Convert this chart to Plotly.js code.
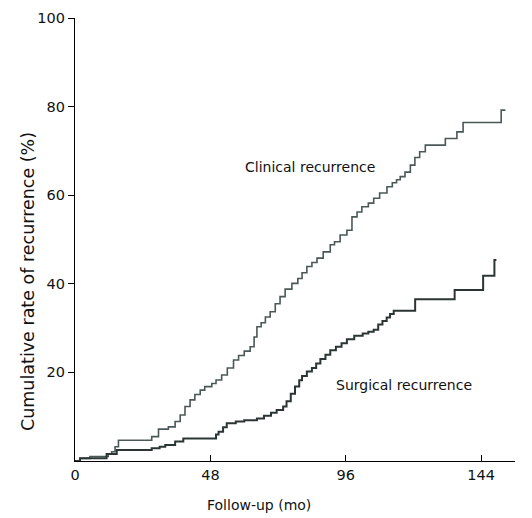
<!DOCTYPE html>
<html>
<head>
<meta charset="utf-8">
<script src="https://cdn.plot.ly/plotly-3.0.1.min.js"></script>
<style>html,body{margin:0;padding:0;background:#fff;}#chart{width:532px;height:518px;}</style>
</head>
<body>
<div id="chart"></div>
<script>
// Follow-up (months) and cumulative recurrence (%)
const clinicalMonths = [0,1.8,5.3,11.8,13,14.2,15.4,27.2,29.6,33.1,35.5,37.3,39,40.8,42.5,44.4,46,48.5,50,52,54,56.2,58,60,62.1,63.5,64.5,66,67.5,69.2,71,72.7,74.5,76.9,79,80.5,82.2,84,85.8,88,90.5,92,94,96.4,98.2,100,101.7,104,105.9,108,110.6,112.5,114,115.3,117,118.9,120.5,122.2,124.2,131.3,135.4,137.6,151.1,152.6];
const clinicalRate   = [0,0.6,1.0,1.6,2.1,3.2,4.7,5.5,7.2,7.7,8.9,10.4,12.3,13.8,15,16,16.8,17.5,18.3,19.4,21,22.8,23.8,24.8,25.8,28,30.3,31.2,32.5,33.7,35.5,37.1,38.8,40.1,41.2,42.5,43.9,44.8,45.8,47.2,48.8,49.5,51,52.1,55.1,56.2,57.4,58.2,59.3,60.5,61.9,62.8,63.5,64.2,65.2,66.8,68.5,69.8,71.3,72.8,74.3,76.4,79.2,79.2];

const surgicalMonths = [0,1.8,11.2,14.8,27.2,30,32,35.5,38.4,50,50.9,52.5,53.8,57,60,64.5,67,69.5,71.5,73.8,75,76.5,78,79.5,80.5,82.2,84,85.5,87,88.8,90.5,92.5,94.5,96.4,99,102,104,105.9,107.5,109,110.5,111.7,113,120.6,134.6,144.7,148.7,149.4];
const surgicalRate   = [0,0.6,1.6,2.5,2.9,3.2,3.6,4.4,5.1,6.0,6.6,7.6,8.5,8.9,9.2,9.6,10.2,10.9,11.5,12.3,13.5,15.2,16.8,18.2,19.2,20.2,21,22,23,24,25,25.8,26.6,27.5,28.3,28.8,29.2,29.6,30.8,31.6,32.4,33.2,33.9,36.5,38.6,41.8,45.4,45.4];

const xTicks = [0,48,96,144];
const yTicks = [20,40,60,80,100];
const seriesNames = ["Clinical recurrence","Surgical recurrence"];

const FONT = "Tahoma, 'DejaVu Sans', sans-serif";

const traces = [
  {x: clinicalMonths, y: clinicalRate, mode: "lines", line: {shape: "hv", color: "#4b5858", width: 1.6}, name: seriesNames[0], hoverinfo: "skip"},
  {x: surgicalMonths, y: surgicalRate, mode: "lines", line: {shape: "hv", color: "#2c3535", width: 2}, name: seriesNames[1], hoverinfo: "skip"}
];

const layout = {
  width: 532, height: 518,
  margin: {l: 75, r: 17, t: 18, b: 57},
  paper_bgcolor: "#fff", plot_bgcolor: "#fff",
  showlegend: false,
  font: {family: FONT, size: 14, color: "#111"},
  xaxis: {
    range: [0, 156], tickvals: xTicks, ticktext: xTicks.map(String),
    ticks: "inside", ticklen: 6, tickwidth: 1, tickcolor: "#000",
    showline: true, linecolor: "#000", linewidth: 1.2,
    showgrid: false, zeroline: false, fixedrange: true,
    tickfont: {family: FONT, size: 14.5, color: "#111"}
  },
  yaxis: {
    range: [0, 100], tickvals: yTicks, ticktext: yTicks.map(String),
    ticks: "outside", ticklen: 6, tickwidth: 1, tickcolor: "#000",
    showline: true, linecolor: "#000", linewidth: 1.2,
    showgrid: false, zeroline: false, fixedrange: true,
    tickfont: {family: FONT, size: 14.5, color: "#111"}
  },
  annotations: [
    {text: seriesNames[0], x: 83.4, y: 66.4, xref: "x", yref: "y", showarrow: false, font: {family: FONT, size: 14, color: "#111"}},
    {text: seriesNames[1], x: 116.7, y: 17.2, xref: "x", yref: "y", showarrow: false, font: {family: FONT, size: 14, color: "#111"}},
    {text: "Follow-up (mo)", x: 259, y: 505, xref: "paper", yref: "paper", showarrow: false, font: {family: FONT, size: 14, color: "#111"}},
    {text: "Cumulative rate of recurrence (%)", x: 16, y: 282, textangle: -90, showarrow: false, font: {family: FONT, size: 17.5, color: "#111"}}
  ]
};
// convert pixel positions of the two axis-title annotations into paper coordinates
const plotW = 532 - 75 - 17, plotH = 518 - 18 - 57;
layout.annotations[2].x = (259 - 75) / plotW;
layout.annotations[2].y = (518 - 57 - 505) / plotH;
layout.annotations[2].yanchor = "middle";
layout.annotations[3].xref = "paper"; layout.annotations[3].yref = "paper";
layout.annotations[3].x = (16 - 75) / plotW;
layout.annotations[3].y = (461 - 282) / plotH;

Plotly.newPlot("chart", traces, layout, {staticPlot: true, displayModeBar: false});
</script>
</body>
</html>
